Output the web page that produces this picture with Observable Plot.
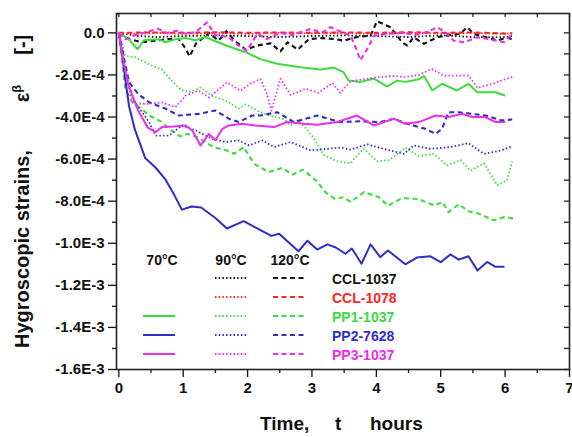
<!DOCTYPE html>
<html><head><meta charset="utf-8">
<script src="https://cdn.jsdelivr.net/npm/d3@7"></script>
<script src="https://cdn.jsdelivr.net/npm/@observablehq/plot@0.6"></script>
<style>body{margin:0;background:#fff;} svg{display:block;}</style>
</head><body><div id="chart"></div>
<script>
// ---- tick labels / categories ----
const xMajorTicks = [0, 1, 2, 3, 4, 5, 6, 7];
const xMinorTicks = [0.5, 1.5, 2.5, 3.5, 4.5, 5.5, 6.5];
const yMajorTicks = [0, -2e-4, -4e-4, -6e-4, -8e-4, -1.0e-3, -1.2e-3, -1.4e-3, -1.6e-3];
const yTickLabels = ["0.0", "-2.0E-4", "-4.0E-4", "-6.0E-4", "-8.0E-4", "-1.0E-3", "-1.2E-3", "-1.4E-3", "-1.6E-3"];
const yMinorTicks = [-1e-4, -3e-4, -5e-4, -7e-4, -9e-4, -1.1e-3, -1.3e-3, -1.5e-3];
const specimens = ["CCL-1037", "CCL-1078", "PP1-1037", "PP2-7628", "PP3-1037"];
const specimenColors = ["#141414", "#ff2424", "#3ddc3d", "#2e2ec6", "#ee2cee"];
const temperatures = ["70°C", "90°C", "120°C"];
const STRAIN_UNIT = 1e-4; // values below are given in units of 1E-4

// ---- series: [time (h), strain (E-4)] ----
const CCL1037_90 = [[0,0],[0.3,-0.15],[0.6,-0.2],[1.0,-0.15],[1.5,-0.12],[2.0,-0.15],[2.5,-0.2],[3.0,-0.15],[3.5,-0.12],[4.0,-0.15],[4.5,-0.2],[5.0,-0.12],[5.5,-0.2],[6.0,-0.2],[6.11,-0.15]];
const CCL1037_120 = [[0,0],[0.16,-0.3],[0.36,-0.45],[0.57,-0.37],[0.78,-0.29],[0.93,-0.29],[1.04,-0.76],[1.1,-1.12],[1.2,-0.5],[1.29,-0.29],[1.4,0.0],[1.55,-0.37],[1.67,0.08],[1.8,-0.37],[1.97,-0.8],[2.15,-0.6],[2.36,-0.5],[2.51,-0.88],[2.62,-0.45],[2.78,-0.8],[2.95,-0.3],[3.15,-0.25],[3.34,-0.29],[3.49,-0.37],[3.7,-0.2],[3.91,-0.13],[4.01,0.55],[4.22,0.27],[4.4,-0.45],[4.48,-0.6],[4.58,-0.21],[4.74,-0.52],[4.95,-0.2],[5.15,-0.1],[5.3,-0.05],[5.41,0.27],[5.51,-0.05],[5.7,-0.2],[5.88,-0.37],[6.03,-0.21],[6.1,-0.3]];
const CCL1078_90 = [[0,0],[0.3,-0.05],[0.6,0],[1.0,-0.05],[1.5,0],[2.0,-0.05],[2.5,0],[3.0,-0.03],[3.5,0],[4.0,-0.05],[4.5,0],[5.0,-0.03],[5.5,0],[6.0,-0.05],[6.11,0]];
const CCL1078_120 = [[0,0],[0.5,0.02],[1.0,0],[1.5,0.03],[2.0,0],[2.5,0.02],[3.0,0],[3.5,0.02],[4.0,0],[4.5,0.03],[5.0,0],[5.5,0.02],[6.0,-0.03],[6.11,-0.03]];
const PP1_70 = [[0,0],[0.15,-0.3],[0.29,-0.78],[0.39,-0.35],[0.62,-0.3],[0.73,-0.45],[0.88,-0.3],[1.04,-0.25],[1.19,-0.35],[1.35,-0.2],[1.5,-0.4],[1.71,-0.65],[1.97,-0.92],[2.2,-1.25],[2.46,-1.47],[2.82,-1.63],[3.13,-1.74],[3.34,-1.65],[3.49,-1.87],[3.57,-2.27],[3.75,-2.33],[3.96,-2.18],[4.17,-2.55],[4.32,-2.27],[4.45,-2.33],[4.66,-2.2],[4.74,-2.05],[4.87,-2.74],[5.02,-2.42],[5.25,-2.74],[5.43,-2.42],[5.57,-2.82],[5.85,-2.82],[6.0,-2.98]];
const PP1_90 = [[0,0],[0.1,-1.1],[0.26,-1.16],[0.47,-1.5],[0.67,-1.75],[0.83,-2.3],[0.98,-2.74],[1.11,-2.8],[1.27,-2.6],[1.45,-3.0],[1.68,-3.25],[1.86,-3.6],[1.97,-3.4],[2.15,-3.7],[2.3,-3.9],[2.56,-4.1],[2.67,-4.4],[2.77,-4.16],[2.87,-4.4],[3.03,-5.0],[3.18,-5.8],[3.39,-6.1],[3.6,-6.2],[3.8,-5.5],[4.01,-6.1],[4.2,-6.05],[4.45,-5.45],[4.65,-5.85],[4.89,-5.75],[5.1,-6.3],[5.31,-6.05],[5.46,-6.55],[5.67,-6.2],[5.88,-7.25],[6.03,-7.0],[6.11,-6.1]];
const PP1_120 = [[0,0],[0.1,-2.66],[0.21,-3.3],[0.35,-3.6],[0.47,-3.93],[0.67,-4.24],[0.78,-4.56],[0.95,-4.92],[1.07,-4.8],[1.22,-4.96],[1.47,-5.43],[1.68,-5.59],[1.79,-5.75],[1.94,-5.43],[2.1,-6.22],[2.33,-6.62],[2.54,-6.42],[2.7,-6.74],[2.86,-6.5],[3.06,-7.01],[3.22,-7.6],[3.35,-7.88],[3.49,-7.81],[3.6,-8.04],[3.81,-7.57],[4.04,-7.81],[4.18,-8.22],[4.4,-7.85],[4.65,-7.9],[4.9,-8.2],[5.03,-8.04],[5.12,-8.52],[5.28,-8.15],[5.43,-8.48],[5.6,-8.6],[5.82,-8.91],[5.99,-8.75],[6.13,-8.82]];
const PP2_70 = [[0,0],[0.05,-1.0],[0.1,-2.2],[0.16,-3.5],[0.25,-4.6],[0.41,-5.95],[0.57,-6.4],[0.72,-6.95],[0.86,-7.7],[0.98,-8.4],[1.13,-8.25],[1.28,-8.3],[1.5,-8.8],[1.68,-9.3],[1.94,-8.95],[2.12,-9.25],[2.37,-9.65],[2.49,-9.55],[2.79,-10.38],[2.93,-9.88],[3.08,-10.3],[3.24,-10.05],[3.37,-10.2],[3.52,-10.5],[3.62,-10.25],[3.77,-10.97],[3.91,-10.05],[4.06,-10.66],[4.18,-10.34],[4.45,-11.0],[4.63,-10.68],[4.84,-10.62],[5.0,-10.9],[5.15,-10.53],[5.28,-10.78],[5.43,-10.62],[5.57,-11.29],[5.72,-10.89],[5.85,-11.12],[5.99,-11.12]];
const PP2_90 = [[0,0],[0.1,-2.0],[0.25,-3.3],[0.47,-4.24],[0.57,-4.88],[0.78,-4.88],[0.98,-4.4],[1.19,-4.64],[1.45,-5.03],[1.66,-5.19],[1.86,-5.11],[2.02,-5.35],[2.23,-5.11],[2.41,-5.43],[2.67,-5.19],[2.98,-5.59],[3.24,-5.51],[3.45,-5.45],[3.6,-5.55],[3.86,-5.3],[4.11,-5.51],[4.43,-5.75],[4.58,-5.35],[4.84,-5.51],[5.15,-5.43],[5.43,-5.24],[5.67,-5.75],[5.93,-5.59],[6.11,-5.4]];
const PP2_120 = [[0,0],[0.08,-1.2],[0.16,-2.35],[0.3,-2.9],[0.47,-3.3],[0.73,-3.61],[0.93,-3.93],[1.24,-3.85],[1.5,-3.69],[1.71,-4.08],[1.86,-4.24],[2.07,-3.93],[2.2,-3.93],[2.46,-3.77],[2.72,-4.24],[3.08,-3.93],[3.44,-4.24],[3.75,-4.2],[4.06,-4.24],[4.27,-4.08],[4.48,-4.32],[4.76,-4.56],[4.92,-4.8],[5.02,-4.56],[5.12,-3.77],[5.28,-3.77],[5.49,-3.85],[5.69,-3.93],[5.95,-4.16],[6.11,-4.12]];
const PP3_70 = [[0,0],[0.05,-1.0],[0.15,-2.5],[0.3,-3.7],[0.45,-4.5],[0.57,-4.72],[0.67,-4.48],[0.85,-4.45],[1.04,-4.4],[1.14,-4.64],[1.27,-5.35],[1.4,-4.8],[1.5,-5.1],[1.61,-4.56],[1.71,-4.4],[1.92,-4.32],[2.12,-4.4],[2.41,-4.48],[2.61,-4.24],[2.87,-4.32],[3.08,-4.37],[3.39,-4.24],[3.7,-3.93],[3.96,-4.4],[4.27,-4.08],[4.45,-4.32],[4.66,-4.24],[4.92,-3.93],[5.12,-4.0],[5.33,-3.85],[5.49,-4.0],[5.69,-4.0],[5.85,-4.24],[6.0,-4.24]];
const PP3_90 = [[0,0],[0.1,-1.8],[0.2,-3.2],[0.26,-3.37],[0.47,-3.37],[0.67,-3.3],[0.88,-3.53],[1.04,-2.98],[1.24,-2.75],[1.4,-3.06],[1.5,-2.82],[1.68,-2.35],[1.89,-2.75],[2.04,-2.42],[2.2,-2.2],[2.3,-2.9],[2.37,-3.7],[2.51,-2.18],[2.67,-2.95],[2.9,-2.66],[3.1,-2.85],[3.32,-2.38],[3.44,-2.85],[3.6,-2.3],[4.01,-2.11],[4.27,-2.05],[4.45,-2.1],[4.66,-2.0],[4.86,-1.71],[5.04,-2.03],[5.43,-2.03],[5.57,-2.62],[5.85,-2.38],[6.0,-2.2],[6.11,-2.1]];
const PP3_120 = [[0,0],[0.1,-0.3],[0.25,-0.1],[0.45,0.05],[0.6,0.2],[0.75,0.0],[0.9,0.1],[1.05,-0.05],[1.2,0.05],[1.37,0.5],[1.5,-0.1],[1.7,-0.2],[1.89,-0.68],[1.99,-0.84],[2.15,-0.05],[2.3,-0.3],[2.5,0.0],[2.7,-0.1],[2.98,0.19],[3.15,0.0],[3.29,0.27],[3.45,0.05],[3.6,-0.13],[3.68,-0.7],[3.75,-1.3],[3.86,-0.76],[3.96,-0.15],[4.15,-0.05],[4.4,0.0],[4.6,-0.1],[4.8,0.05],[4.95,0.27],[5.1,-0.05],[5.2,-0.37],[5.36,-0.45],[5.57,-0.21],[5.75,-0.3],[5.98,-0.45],[6.11,-0.05]];

const seriesList = [
  {specimen: "CCL-1037", temp: "90°C", data: CCL1037_90},
  {specimen: "CCL-1037", temp: "120°C", data: CCL1037_120},
  {specimen: "CCL-1078", temp: "90°C", data: CCL1078_90},
  {specimen: "CCL-1078", temp: "120°C", data: CCL1078_120},
  {specimen: "PP1-1037", temp: "70°C", data: PP1_70},
  {specimen: "PP1-1037", temp: "90°C", data: PP1_90},
  {specimen: "PP1-1037", temp: "120°C", data: PP1_120},
  {specimen: "PP2-7628", temp: "70°C", data: PP2_70},
  {specimen: "PP2-7628", temp: "90°C", data: PP2_90},
  {specimen: "PP2-7628", temp: "120°C", data: PP2_120},
  {specimen: "PP3-1037", temp: "70°C", data: PP3_70},
  {specimen: "PP3-1037", temp: "90°C", data: PP3_90},
  {specimen: "PP3-1037", temp: "120°C", data: PP3_120}
];

// ---- styles ----
const FONT = "'Liberation Sans', Arial, Helvetica, sans-serif";
const colorOf = s => specimenColors[specimens.indexOf(s)];
const lineStyle = {
  "70°C": {strokeWidth: 2, strokeDasharray: null},
  "90°C": {strokeWidth: 1.8, strokeDasharray: "1.5,2.2"},
  "120°C": {strokeWidth: 2.1, strokeDasharray: "5,3.5"}
};

const W = 572, H = 437;
const M = {left: 116, right: 3, top: 13, bottom: 68};
const plotW = W - M.left - M.right, plotH = H - M.top - M.bottom;

const lineMarks = seriesList.map(s => {
  const rows = s.data.map(([t, v]) => ({t, v: v * STRAIN_UNIT}));
  const st = lineStyle[s.temp];
  return Plot.line(rows, {x: "t", y: "v", stroke: colorOf(s.specimen), strokeWidth: st.strokeWidth,
    strokeDasharray: st.strokeDasharray, strokeLinejoin: "round", strokeLinecap: "butt"});
});

const yLabelOf = d => {
  const i = yMajorTicks.findIndex(v => Math.abs(v - d) < 1e-9);
  return i >= 0 ? yTickLabels[i] : "";
};

const chart = Plot.plot({
  width: W, height: H,
  marginLeft: M.left, marginRight: M.right, marginTop: M.top, marginBottom: M.bottom,
  x: {domain: [-0.036, 7], label: null},
  y: {domain: [-16e-4, 0.92e-4], label: null},
  style: {fontFamily: FONT, fontWeight: "bold", fontSize: "15px", color: "#111", background: "#fff"},
  marks: [
    ...lineMarks,
    Plot.axisX({ticks: xMajorTicks, tickSize: 8, tickPadding: 5, tickFormat: d => String(d), label: null, fontSize: 15, strokeWidth: 1.3}),
    Plot.axisX({ticks: xMinorTicks, tickSize: 4, tickFormat: () => "", label: null, strokeWidth: 1.3}),
    Plot.axisY({ticks: yMajorTicks, tickSize: 8, tickPadding: 4, tickFormat: yLabelOf, label: null, fontSize: 15, strokeWidth: 1.3}),
    Plot.axisY({ticks: yMinorTicks, tickSize: 4, tickFormat: () => "", label: null, strokeWidth: 1.3}),
    Plot.tickX([...xMajorTicks, ...xMinorTicks], {x: d => d, insetBottom: plotH - 4, stroke: "#222", strokeWidth: 1.3}),
    Plot.tickY([...yMajorTicks, ...yMinorTicks], {y: d => d, insetLeft: plotW - 5, stroke: "#222", strokeWidth: 1.3}),
    Plot.frame({stroke: "#222", strokeWidth: 1.6})
  ]
});
document.getElementById("chart").appendChild(chart);

// ---- legend, titles ----
const svg = d3.select(chart);
const leg = svg.append("g").attr("font-family", FONT).attr("font-weight", "bold");
const colX = {"70°C": [143, 175], "90°C": [215, 247], "120°C": [273, 305]};
const headerCenter = {"70°C": 162, "90°C": 231, "120°C": 290};
temperatures.forEach(t => {
  leg.append("text").attr("x", headerCenter[t]).attr("y", 265).attr("text-anchor", "middle")
    .attr("font-size", 14).attr("fill", "#111").text(t);
});
specimens.forEach((s, i) => {
  const y = 278 + i * 19;
  seriesList.filter(d => d.specimen === s).forEach(d => {
    const st = lineStyle[d.temp];
    leg.append("line").attr("x1", colX[d.temp][0]).attr("x2", colX[d.temp][1]).attr("y1", y).attr("y2", y)
      .attr("stroke", colorOf(s)).attr("stroke-width", st.strokeWidth)
      .attr("stroke-dasharray", st.strokeDasharray);
  });
  leg.append("text").attr("x", 332).attr("y", y + 5.5).attr("font-size", 14).attr("text-anchor", "start")
    .attr("fill", colorOf(s)).text(s);
});

const ylab = svg.append("text").attr("transform", "translate(29,348) rotate(-90)").attr("text-anchor", "start")
  .attr("font-family", FONT).attr("font-weight", "bold").attr("font-size", 20).attr("fill", "#111");
ylab.append("tspan").text("Hygroscopic strains,");
ylab.append("tspan").attr("dx", 48).text("ε");
ylab.append("tspan").attr("dy", -8).attr("font-size", 13).text("β");
ylab.append("tspan").attr("dx", 30).attr("dy", 8).text("[-]");

const xlab = svg.append("text").attr("y", 430).attr("text-anchor", "start")
  .attr("font-family", FONT).attr("font-weight", "bold").attr("font-size", 19).attr("fill", "#111");
xlab.append("tspan").attr("x", 260).text("Time,");
xlab.append("tspan").attr("x", 335).text("t");
xlab.append("tspan").attr("x", 370).text("hours");
</script></body></html>
